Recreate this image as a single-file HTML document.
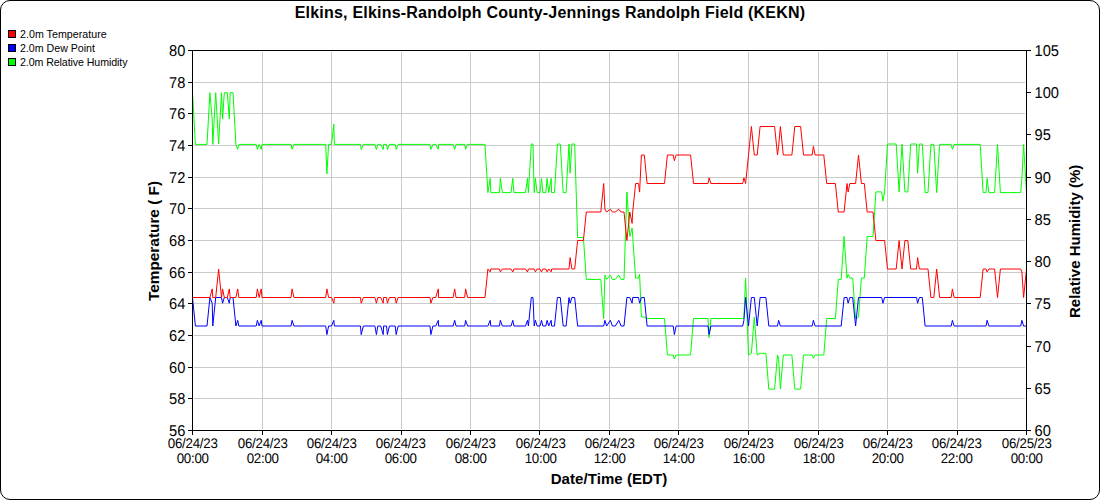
<!DOCTYPE html>
<html><head><meta charset="utf-8"><title>KEKN</title>
<style>
html,body{margin:0;padding:0;background:#fff;}
body{width:1100px;height:500px;overflow:hidden;position:relative;font-family:"Liberation Sans",sans-serif;color:#000;}
#frame{position:absolute;left:0;top:0;width:1098px;height:498px;border:1px solid #000;border-radius:10px;background:#fff;}
#title{position:absolute;left:0;top:4px;width:1100px;text-align:center;font-weight:bold;font-size:16px;line-height:18px;white-space:nowrap;letter-spacing:0.21px;}
.lg{position:absolute;left:20px;font-size:10.67px;line-height:13px;white-space:nowrap;}
.sw{position:absolute;left:8px;width:6px;height:6px;border:1px solid #000;}
.yl{position:absolute;left:100px;width:85.4px;text-align:right;font-size:14.67px;line-height:18px;text-rendering:geometricPrecision;transform:scaleY(1.07);transform-origin:50% 50%;}
.yr{position:absolute;left:1034.5px;font-size:14.67px;line-height:18px;text-rendering:geometricPrecision;transform:scaleY(1.07);transform-origin:50% 50%;}
.xl{position:absolute;top:436px;width:80px;text-align:center;white-space:nowrap;font-size:13.33px;line-height:14.7px;letter-spacing:-0.27px;text-rendering:geometricPrecision;transform:scaleY(1.05);transform-origin:50% 0;}
#xt{position:absolute;left:192px;top:470px;letter-spacing:0.07px;width:834px;text-align:center;font-weight:bold;font-size:15px;line-height:18px;}
.rot{position:absolute;font-weight:bold;font-size:15px;line-height:18px;white-space:nowrap;transform-origin:0 0;transform:rotate(-90deg);}
svg{position:absolute;left:0;top:0;}
</style></head><body>
<div id="frame"></div>
<div id="title">Elkins, Elkins-Randolph County-Jennings Randolph Field (KEKN)</div>
<div class="sw" style="top:30px;background:#ff0000"></div><div class="lg" style="top:28px;letter-spacing:0.03px">2.0m Temperature</div>
<div class="sw" style="top:44px;background:#0000ff"></div><div class="lg" style="top:42px;letter-spacing:-0.02px">2.0m Dew Point</div>
<div class="sw" style="top:58px;background:#00ff00"></div><div class="lg" style="top:56px;letter-spacing:-0.1px">2.0m Relative Humidity</div>
<svg width="1100" height="500" viewBox="0 0 1100 500" shape-rendering="crispEdges">
<rect x="262" y="52" width="1" height="377" fill="#cacaca"/>
<rect x="331" y="52" width="1" height="377" fill="#cacaca"/>
<rect x="401" y="52" width="1" height="377" fill="#cacaca"/>
<rect x="470" y="52" width="1" height="377" fill="#cacaca"/>
<rect x="539" y="52" width="1" height="377" fill="#cacaca"/>
<rect x="609" y="52" width="1" height="377" fill="#cacaca"/>
<rect x="678" y="52" width="1" height="377" fill="#cacaca"/>
<rect x="748" y="52" width="1" height="377" fill="#cacaca"/>
<rect x="818" y="52" width="1" height="377" fill="#cacaca"/>
<rect x="887" y="52" width="1" height="377" fill="#cacaca"/>
<rect x="957" y="52" width="1" height="377" fill="#cacaca"/>
<rect x="194" y="398" width="831" height="1" fill="#cacaca"/>
<rect x="194" y="367" width="831" height="1" fill="#cacaca"/>
<rect x="194" y="335" width="831" height="1" fill="#cacaca"/>
<rect x="194" y="303" width="831" height="1" fill="#cacaca"/>
<rect x="194" y="272" width="831" height="1" fill="#cacaca"/>
<rect x="194" y="240" width="831" height="1" fill="#cacaca"/>
<rect x="194" y="208" width="831" height="1" fill="#cacaca"/>
<rect x="194" y="177" width="831" height="1" fill="#cacaca"/>
<rect x="194" y="145" width="831" height="1" fill="#cacaca"/>
<rect x="194" y="113" width="831" height="1" fill="#cacaca"/>
<rect x="194" y="82" width="831" height="1" fill="#cacaca"/>
</svg>
<svg width="1100" height="500" viewBox="0 0 1100 500">
<g transform="translate(0.5,0.5)">
<path d="M192.0 92.2 L194.9 143.9 L206.5 143.9 L209.4 92.2 L211.7 118.4 L212.3 143.9 L215.2 92.2 L218.1 143.5 L221.0 92.2 L222.1 118.4 L223.8 92.2 L226.8 92.2 L228.8 118.4 L229.7 92.2 L232.5 92.2 L235.4 143.9 L237.2 148.8 L238.3 143.9 L255.7 143.9 L256.9 148.8 L258.6 143.9 L260.7 148.8 L261.5 143.9 L290.5 143.9 L291.6 148.8 L293.4 143.9 L325.2 143.9 L326.4 173.4 L328.1 143.9 L331.0 143.9 L333.3 123.6 L333.9 143.9 L360.0 143.9 L360.7 149.0 L362.9 143.9 L374.4 143.9 L375.9 149.0 L377.3 143.9 L380.2 143.9 L382.7 149.0 L383.1 143.9 L386.0 143.9 L386.9 149.0 L388.9 143.9 L394.7 143.9 L395.7 149.0 L397.6 143.9 L429.5 143.9 L430.4 149.0 L432.4 143.9 L435.2 143.9 L437.8 148.8 L438.1 143.9 L452.6 143.9 L454.2 148.8 L455.5 143.9 L464.2 143.9 L465.1 148.8 L467.1 143.9 L484.5 143.9 L487.4 192.1 L489.7 177.8 L490.3 192.1 L499.0 192.1 L499.8 177.8 L501.9 192.1 L510.5 192.1 L512.3 177.8 L513.4 192.1 L525.0 192.1 L527.0 177.8 L527.9 192.1 L530.8 143.5 L532.5 143.5 L533.7 192.1 L534.9 177.8 L536.6 192.1 L539.5 192.1 L541.0 177.8 L542.4 192.1 L545.3 192.1 L546.6 177.8 L548.2 192.1 L550.7 177.8 L551.1 192.1 L554.0 192.1 L556.9 143.5 L559.8 143.5 L562.7 192.1 L565.6 192.1 L568.5 143.5 L569.6 172.7 L571.4 143.5 L574.2 143.5 L577.1 237.0 L582.9 237.0 L585.8 278.9 L600.3 278.9 L603.2 318.0 L604.4 274.6 L606.1 278.9 L609.9 274.6 L611.9 278.9 L614.8 278.9 L618.3 274.6 L620.6 278.9 L623.5 278.9 L626.4 191.4 L629.3 236.0 L631.6 227.5 L632.2 236.0 L635.1 277.6 L638.0 277.6 L639.1 273.8 L640.9 316.5 L643.8 316.5 L646.6 318.0 L664.0 318.0 L666.9 354.5 L672.7 354.5 L673.9 358.5 L675.6 354.5 L690.1 354.5 L693.0 318.0 L707.5 318.0 L708.6 337.0 L710.4 318.0 L742.2 318.0 L743.4 317.7 L745.1 277.6 L748.0 354.5 L750.9 352.8 L753.8 316.5 L756.7 354.5 L759.6 352.8 L765.4 352.8 L768.3 388.6 L774.1 388.6 L777.0 354.5 L778.1 357.6 L779.9 388.6 L782.8 354.5 L791.4 354.5 L794.3 388.6 L800.1 388.6 L803.0 354.5 L811.7 354.5 L812.9 357.6 L814.6 354.5 L823.3 354.5 L826.2 318.0 L834.9 318.0 L837.8 278.9 L840.7 278.9 L843.6 236.0 L846.5 277.6 L847.6 273.8 L849.4 277.6 L852.2 277.6 L855.1 318.0 L858.0 316.5 L860.9 277.6 L863.8 277.6 L866.7 236.0 L872.5 236.0 L875.4 191.4 L881.2 191.4 L882.4 200.7 L884.1 191.4 L887.0 143.5 L895.7 143.5 L898.6 191.4 L901.5 143.5 L904.4 191.4 L907.3 191.4 L910.2 143.5 L916.0 143.5 L917.1 172.7 L918.9 143.5 L921.8 143.5 L924.6 192.1 L927.5 192.1 L930.4 143.9 L933.3 143.9 L936.2 192.1 L939.1 143.9 L950.7 143.9 L951.9 148.8 L953.6 143.9 L979.7 143.9 L982.6 192.1 L985.5 192.1 L986.6 177.8 L988.4 192.1 L994.1 192.1 L997.0 143.9 L999.9 192.1 L1020.2 192.1 L1021.4 177.8 L1023.1 143.9 L1026.0 192.1" fill="none" stroke="#00ff00" stroke-width="1" stroke-linejoin="miter" stroke-miterlimit="4"/>
<path d="M192.0 297.0 L194.9 325.5 L206.5 325.5 L209.4 297.0 L211.7 302.7 L212.3 325.5 L215.2 297.0 L221.0 297.0 L222.1 302.7 L223.8 297.0 L226.8 297.0 L228.8 302.7 L229.7 297.0 L232.5 297.0 L235.4 325.5 L237.2 319.8 L238.3 325.5 L255.7 325.5 L256.9 319.8 L258.6 325.5 L260.7 319.8 L261.5 325.5 L290.5 325.5 L291.6 319.8 L293.4 325.5 L325.2 325.5 L326.4 334.1 L328.1 325.5 L331.0 325.5 L333.3 319.8 L333.9 325.5 L360.0 325.5 L360.7 334.1 L362.9 325.5 L374.4 325.5 L375.9 334.1 L377.3 325.5 L380.2 325.5 L382.7 334.1 L383.1 325.5 L386.0 325.5 L386.9 334.1 L388.9 325.5 L394.7 325.5 L395.7 334.1 L397.6 325.5 L429.5 325.5 L430.4 334.1 L432.4 325.5 L435.2 325.5 L437.8 319.8 L438.1 325.5 L452.6 325.5 L454.2 319.8 L455.5 325.5 L464.2 325.5 L465.1 319.8 L467.1 325.5 L487.4 325.5 L489.7 319.8 L490.3 325.5 L499.0 325.5 L499.8 319.8 L501.9 325.5 L510.5 325.5 L512.3 319.8 L513.4 325.5 L525.0 325.5 L527.0 319.8 L527.9 325.5 L530.8 297.0 L532.5 297.0 L533.7 325.5 L534.9 319.8 L536.6 325.5 L539.5 325.5 L541.0 319.8 L542.4 325.5 L545.3 325.5 L546.6 319.8 L548.2 325.5 L550.7 319.8 L551.1 325.5 L554.0 325.5 L556.9 297.0 L559.8 297.0 L562.7 325.5 L565.6 325.5 L568.5 297.0 L569.6 302.7 L571.4 297.0 L574.2 297.0 L577.1 325.5 L603.2 325.5 L604.4 319.8 L606.1 325.5 L609.9 319.8 L611.9 325.5 L614.8 325.5 L618.3 319.8 L620.6 325.5 L623.5 325.5 L626.4 297.0 L629.3 297.0 L631.6 302.7 L632.2 297.0 L638.0 297.0 L639.1 302.7 L640.9 297.0 L643.8 297.0 L646.6 325.5 L672.7 325.5 L673.9 334.1 L675.6 325.5 L707.5 325.5 L708.6 334.1 L710.4 325.5 L742.2 325.5 L743.4 319.8 L745.1 297.0 L748.0 325.5 L750.9 297.0 L753.8 297.0 L756.7 325.5 L759.6 297.0 L765.4 297.0 L768.3 325.5 L777.0 325.5 L778.1 319.8 L779.9 325.5 L811.7 325.5 L812.9 319.8 L814.6 325.5 L840.7 325.5 L843.6 297.0 L846.5 297.0 L847.6 302.7 L849.4 297.0 L852.2 297.0 L855.1 325.5 L858.0 297.0 L881.2 297.0 L882.4 302.7 L884.1 297.0 L916.0 297.0 L917.1 302.7 L918.9 297.0 L921.8 297.0 L924.6 325.5 L950.7 325.5 L951.9 319.8 L953.6 325.5 L985.5 325.5 L986.6 319.8 L988.4 325.5 L1020.2 325.5 L1021.4 319.8 L1023.1 325.5 L1026.0 325.5" fill="none" stroke="#0000ff" stroke-width="1" stroke-linejoin="miter" stroke-miterlimit="4"/>
<path d="M192.0 297.0 L209.4 297.0 L211.7 288.4 L212.3 297.0 L215.2 297.0 L218.1 268.5 L221.0 297.0 L222.1 288.4 L223.8 297.0 L226.8 297.0 L228.8 288.4 L229.7 297.0 L235.4 297.0 L237.2 288.4 L238.3 297.0 L255.7 297.0 L256.9 288.4 L258.6 297.0 L260.7 288.4 L261.5 297.0 L290.5 297.0 L291.6 288.4 L293.4 297.0 L325.2 297.0 L326.4 288.4 L328.1 297.0 L331.0 297.0 L333.3 302.7 L333.9 297.0 L360.0 297.0 L360.7 302.7 L362.9 297.0 L374.4 297.0 L375.9 302.7 L377.3 297.0 L380.2 297.0 L382.7 302.7 L383.1 297.0 L386.0 297.0 L386.9 302.7 L388.9 297.0 L394.7 297.0 L395.7 302.7 L397.6 297.0 L429.5 297.0 L430.4 302.7 L432.4 297.0 L435.2 297.0 L437.8 288.4 L438.1 297.0 L452.6 297.0 L454.2 288.4 L455.5 297.0 L464.2 297.0 L465.1 288.4 L467.1 297.0 L484.5 297.0 L487.4 268.5 L489.7 271.4 L490.3 268.5 L499.0 268.5 L499.8 271.4 L501.9 268.5 L510.5 268.5 L512.3 271.4 L513.4 268.5 L525.0 268.5 L527.0 271.4 L527.9 268.5 L533.7 268.5 L534.9 271.4 L536.6 268.5 L539.5 268.5 L541.0 271.4 L542.4 268.5 L545.3 268.5 L546.6 271.4 L548.2 268.5 L550.7 271.4 L551.1 268.5 L568.5 268.5 L569.6 257.1 L571.4 268.5 L574.2 268.5 L577.1 240.0 L582.9 240.0 L585.8 211.5 L600.3 211.5 L603.2 183.0 L604.4 208.7 L606.1 211.5 L609.9 208.7 L611.9 211.5 L614.8 211.5 L618.3 208.7 L620.6 211.5 L623.5 211.5 L626.4 240.0 L629.3 211.5 L631.6 222.9 L632.2 211.5 L635.1 183.0 L638.0 183.0 L639.1 191.6 L640.9 154.5 L643.8 154.5 L646.6 183.0 L664.0 183.0 L666.9 154.5 L672.7 154.5 L673.9 160.2 L675.6 154.5 L690.1 154.5 L693.0 183.0 L707.5 183.0 L708.6 177.3 L710.4 183.0 L742.2 183.0 L743.4 177.3 L745.1 183.0 L750.9 126.0 L753.8 154.5 L756.7 154.5 L759.6 126.0 L774.1 126.0 L777.0 154.5 L778.1 145.9 L779.9 126.0 L782.8 154.5 L791.4 154.5 L794.3 126.0 L800.1 126.0 L803.0 154.5 L811.7 154.5 L812.9 145.9 L814.6 154.5 L823.3 154.5 L826.2 183.0 L834.9 183.0 L837.8 211.5 L843.6 211.5 L846.5 183.0 L847.6 191.6 L849.4 183.0 L855.1 183.0 L858.0 154.5 L860.9 183.0 L863.8 183.0 L866.7 211.5 L872.5 211.5 L875.4 240.0 L884.1 240.0 L887.0 268.5 L895.7 268.5 L898.6 240.0 L901.5 268.5 L904.4 240.0 L907.3 240.0 L910.2 268.5 L916.0 268.5 L917.1 257.1 L918.9 268.5 L927.5 268.5 L930.4 297.0 L933.3 297.0 L936.2 268.5 L939.1 297.0 L950.7 297.0 L951.9 288.4 L953.6 297.0 L979.7 297.0 L982.6 268.5 L985.5 268.5 L986.6 271.4 L988.4 268.5 L994.1 268.5 L997.0 297.0 L999.9 268.5 L1020.2 268.5 L1021.4 271.4 L1023.1 297.0 L1026.0 268.5" fill="none" stroke="#ff0000" stroke-width="1" stroke-linejoin="miter" stroke-miterlimit="4"/>
</g>
</svg>
<svg width="1100" height="500" viewBox="0 0 1100 500" shape-rendering="crispEdges">
<rect x="192" y="50" width="835" height="1" fill="#000"/>
<rect x="192" y="430" width="835" height="1" fill="#000"/>
<rect x="192" y="50" width="1" height="381" fill="#000"/>
<rect x="1026" y="50" width="1" height="381" fill="#000"/>
<rect x="188" y="430" width="4" height="1" fill="#000"/>
<rect x="188" y="398" width="4" height="1" fill="#000"/>
<rect x="188" y="367" width="4" height="1" fill="#000"/>
<rect x="188" y="335" width="4" height="1" fill="#000"/>
<rect x="188" y="303" width="4" height="1" fill="#000"/>
<rect x="188" y="272" width="4" height="1" fill="#000"/>
<rect x="188" y="240" width="4" height="1" fill="#000"/>
<rect x="188" y="208" width="4" height="1" fill="#000"/>
<rect x="188" y="177" width="4" height="1" fill="#000"/>
<rect x="188" y="145" width="4" height="1" fill="#000"/>
<rect x="188" y="113" width="4" height="1" fill="#000"/>
<rect x="188" y="82" width="4" height="1" fill="#000"/>
<rect x="188" y="50" width="4" height="1" fill="#000"/>
<rect x="1027" y="430" width="4" height="1" fill="#000"/>
<rect x="1027" y="388" width="4" height="1" fill="#000"/>
<rect x="1027" y="346" width="4" height="1" fill="#000"/>
<rect x="1027" y="303" width="4" height="1" fill="#000"/>
<rect x="1027" y="261" width="4" height="1" fill="#000"/>
<rect x="1027" y="219" width="4" height="1" fill="#000"/>
<rect x="1027" y="177" width="4" height="1" fill="#000"/>
<rect x="1027" y="134" width="4" height="1" fill="#000"/>
<rect x="1027" y="92" width="4" height="1" fill="#000"/>
<rect x="1027" y="50" width="4" height="1" fill="#000"/>
<rect x="192" y="431" width="1" height="4" fill="#000"/>
<rect x="262" y="431" width="1" height="4" fill="#000"/>
<rect x="331" y="431" width="1" height="4" fill="#000"/>
<rect x="401" y="431" width="1" height="4" fill="#000"/>
<rect x="470" y="431" width="1" height="4" fill="#000"/>
<rect x="539" y="431" width="1" height="4" fill="#000"/>
<rect x="609" y="431" width="1" height="4" fill="#000"/>
<rect x="678" y="431" width="1" height="4" fill="#000"/>
<rect x="748" y="431" width="1" height="4" fill="#000"/>
<rect x="818" y="431" width="1" height="4" fill="#000"/>
<rect x="887" y="431" width="1" height="4" fill="#000"/>
<rect x="957" y="431" width="1" height="4" fill="#000"/>
<rect x="1026" y="431" width="1" height="4" fill="#000"/>
</svg>
<div class="yl" style="top:422.5px">56</div>
<div class="yl" style="top:390.5px">58</div>
<div class="yl" style="top:359.5px">60</div>
<div class="yl" style="top:327.5px">62</div>
<div class="yl" style="top:295.5px">64</div>
<div class="yl" style="top:264.5px">66</div>
<div class="yl" style="top:232.5px">68</div>
<div class="yl" style="top:200.5px">70</div>
<div class="yl" style="top:169.5px">72</div>
<div class="yl" style="top:137.5px">74</div>
<div class="yl" style="top:105.5px">76</div>
<div class="yl" style="top:74.5px">78</div>
<div class="yl" style="top:42.5px">80</div>
<div class="yr" style="top:422.5px">60</div>
<div class="yr" style="top:380.5px">65</div>
<div class="yr" style="top:338.5px">70</div>
<div class="yr" style="top:295.5px">75</div>
<div class="yr" style="top:253.5px">80</div>
<div class="yr" style="top:211.5px">85</div>
<div class="yr" style="top:169.5px">90</div>
<div class="yr" style="top:126.5px">95</div>
<div class="yr" style="top:84.5px">100</div>
<div class="yr" style="top:42.5px">105</div>
<div class="xl" style="left:152.7px">06/24/23<br>00:00</div>
<div class="xl" style="left:222.7px">06/24/23<br>02:00</div>
<div class="xl" style="left:291.7px">06/24/23<br>04:00</div>
<div class="xl" style="left:360.7px">06/24/23<br>06:00</div>
<div class="xl" style="left:430.7px">06/24/23<br>08:00</div>
<div class="xl" style="left:500.7px">06/24/23<br>10:00</div>
<div class="xl" style="left:569.7px">06/24/23<br>12:00</div>
<div class="xl" style="left:638.7px">06/24/23<br>14:00</div>
<div class="xl" style="left:708.7px">06/24/23<br>16:00</div>
<div class="xl" style="left:778.7px">06/24/23<br>18:00</div>
<div class="xl" style="left:847.7px">06/24/23<br>20:00</div>
<div class="xl" style="left:916.7px">06/24/23<br>22:00</div>
<div class="xl" style="left:986.7px">06/25/23<br>00:00</div>
<div id="xt">Date/Time (EDT)</div>
<div class="rot" id="ylt" style="left:145px;top:301px;transform:rotate(-90deg) scaleX(1.024);">Temperature ( F)</div>
<div class="rot" id="yrt" style="left:1066px;top:318px;">Relative Humidity (%)</div>
</body></html>
